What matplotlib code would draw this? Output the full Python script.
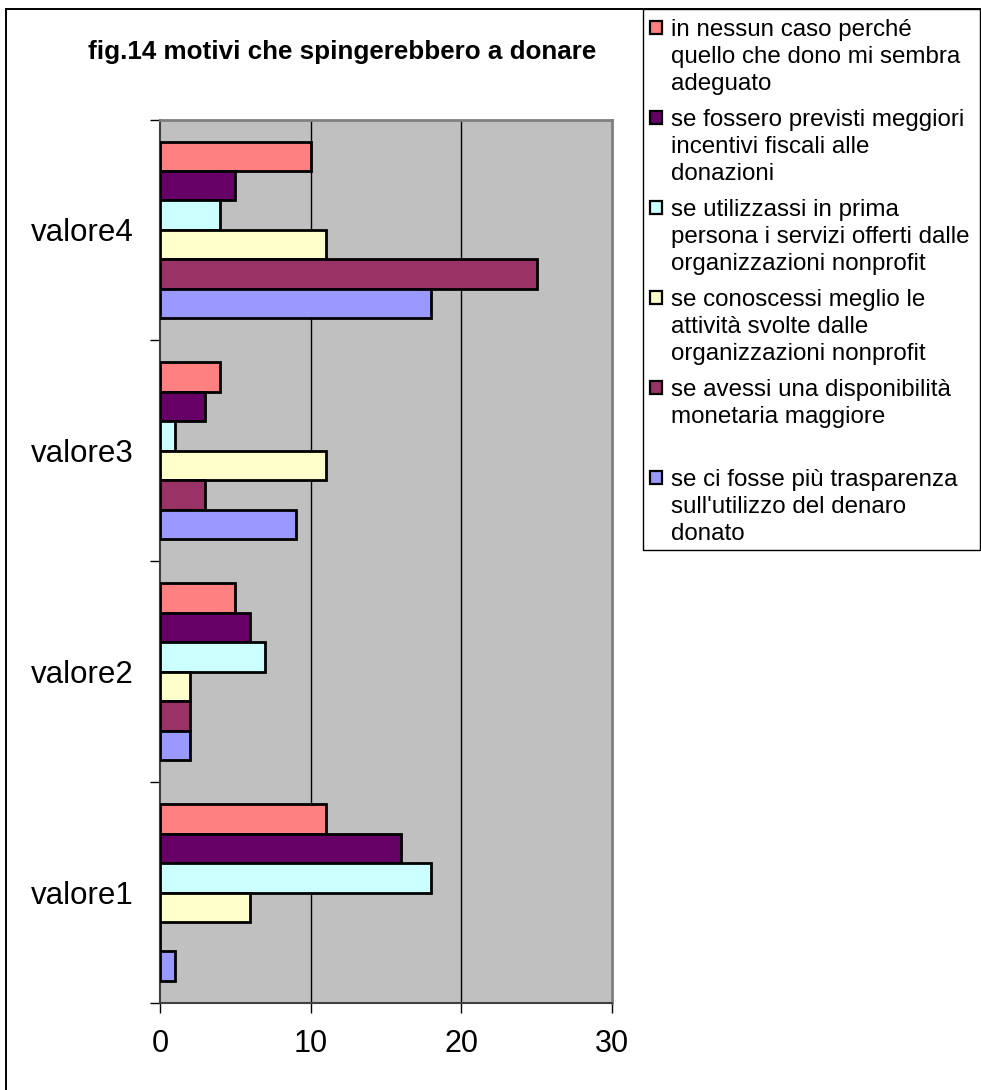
import matplotlib.pyplot as plt
import matplotlib.patches as mpatches
import numpy as np

plt.rcParams['font.family'] = ['Liberation Sans', 'DejaVu Sans']

# dati
categorie = ['valore1', 'valore2', 'valore3', 'valore4']
serie = [
    'in nessun caso perché\nquello che dono mi sembra\nadeguato',
    'se fossero previsti meggiori\nincentivi fiscali alle\ndonazioni',
    'se utilizzassi in prima\npersona i servizi offerti dalle\norganizzazioni nonprofit',
    'se conoscessi meglio le\nattività svolte dalle\norganizzazioni nonprofit',
    'se avessi una disponibilità\nmonetaria maggiore',
    'se ci fosse più trasparenza\nsull\'utilizzo del denaro\ndonato',
]
colori = ['#FF8080', '#660066', '#CCFFFF', '#FFFFCC', '#993366', '#9999FF']

nessun_caso = [11, 5, 4, 10]
incentivi = [16, 6, 3, 5]
servizi = [18, 7, 1, 4]
attivita = [6, 2, 11, 11]
disponibilita = [0, 2, 3, 25]
trasparenza = [1, 2, 9, 18]
valori = [nessun_caso, incentivi, servizi, attivita, disponibilita, trasparenza]

x_ticks = [0, 10, 20, 30]

W, H = 981, 1090
fig = plt.figure(figsize=(W / 100, H / 100), dpi=100)
ax = fig.add_axes([160 / W, 1 - 1003 / H, (612 - 160) / W, (1003 - 119.5) / H])
ax.set_facecolor('#C0C0C0')

n = len(serie)
h = 0.8 / n
y = np.arange(len(categorie))
for i in range(n):
    ax.barh(y + (n / 2 - 0.5 - i) * h, valori[i], height=h, color=colori[i],
            edgecolor='black', linewidth=2.0, zorder=3)

ax.set_xlim(0, 30)
ax.set_ylim(-0.5, len(categorie) - 0.5)
ax.set_xticks(x_ticks)
ax.set_xticklabels([str(t) for t in x_ticks], fontsize=22)
ax.tick_params(axis='x', direction='out', length=7, width=1, pad=12)

# tacche ai confini delle categorie, etichette al centro
ax.set_yticks(np.arange(len(categorie) + 1) - 0.5)
ax.set_yticklabels([])
ax.set_yticks(y, minor=True)
ax.set_yticklabels(categorie, minor=True, fontsize=22.5)
ax.tick_params(axis='y', which='major', direction='out', length=7, width=1)
ax.tick_params(axis='y', which='minor', length=0, pad=19)

for t in x_ticks[1:-1]:
    ax.axvline(t, color='black', linewidth=1, zorder=1)

for s in ['top', 'right']:
    ax.spines[s].set_color('#808080')
    ax.spines[s].set_linewidth(2)
for s in ['left', 'bottom']:
    ax.spines[s].set_color('#404040')
    ax.spines[s].set_linewidth(1.5)

fig.text(342 / W, 1 - 52 / H, 'fig.14 motivi che spingerebbero a donare',
         ha='center', va='center', fontsize=18.7, fontweight='bold')

# cornice esterna (solo lati sinistro e superiore visibili)
fig.patches.append(mpatches.Rectangle((6 / W, -0.1), 2, 1 - 9 / H + 0.1,
                                      transform=fig.transFigure, fill=False,
                                      edgecolor='black', linewidth=1.4))

# legenda disegnata a mano
fig.patches.append(mpatches.Rectangle((643 / W, 1 - 550 / H), (980 - 643) / W, (550 - 9) / H,
                                      transform=fig.transFigure, fill=False,
                                      edgecolor='black', linewidth=1))
for i in range(n):
    base = 36 + 90 * i
    fig.patches.append(mpatches.Rectangle((650 / W, 1 - (base - 2) / H), 12 / W, 13 / H,
                                          transform=fig.transFigure, facecolor=colori[i],
                                          edgecolor='black', linewidth=1.6))
    for j, riga in enumerate(serie[i].split('\n')):
        fig.text(671 / W, 1 - (base + 27 * j) / H, riga, ha='left',
                 va='baseline', fontsize=17.4)

fig.savefig('out.png', dpi=100)
